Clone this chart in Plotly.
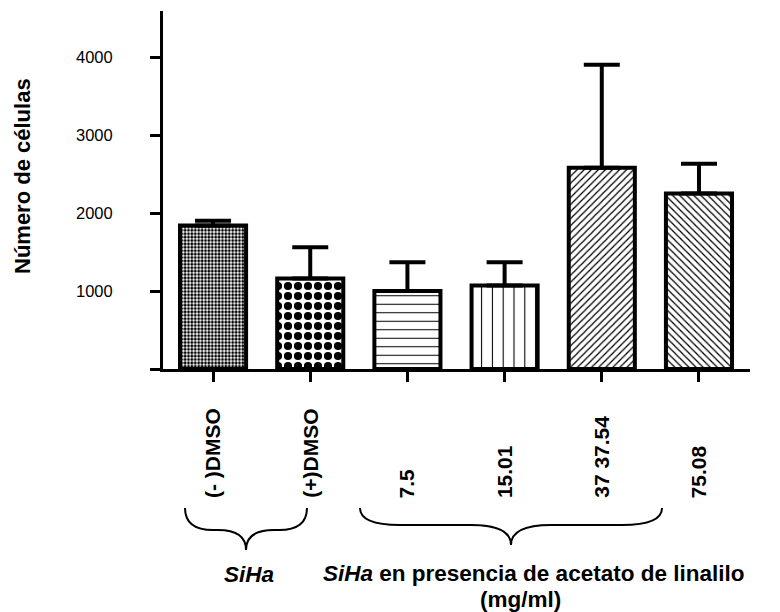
import plotly.graph_objects as go

categories = ["(- )DMSO", "(+)DMSO", "7.5", "15.01", "37 37.54", "75.08"]
means = [1840, 1160, 1000, 1070, 2580, 2250]
sd_upper = [60, 400, 370, 300, 1320, 380]
y_ticks = [0, 1000, 2000, 3000, 4000]
group_labels = ["<i>SiHa</i>", "<i>SiHa</i> en presencia de acetato de linalilo", "(mg/ml)"]
y_title = "Número de células"

patterns = [
    dict(shape=".", size=3.4, solidity=0.55),
    dict(shape=".", size=10, solidity=0.52),
    dict(shape="-", size=8.5, solidity=0.12),
    dict(shape="|", size=10.8, solidity=0.1),
    dict(shape="/", size=5, solidity=0.25),
    dict(shape="\\", size=5, solidity=0.25),
]

W, H = 780, 612
L, R, T, B = 163, 30, 11, 243
pw, ph = W - L - R, H - T - B
FONT = "Arial, Liberation Sans, sans-serif"

def px2paper(xp, yp):
    return (xp - L) / pw, (H - B - yp) / ph

x_idx = list(range(len(categories)))

fig = go.Figure()
for i in x_idx:
    fig.add_trace(go.Bar(
        x=[i], y=[means[i]], width=0.68,
        marker=dict(color="white", line=dict(color="black", width=4),
                    pattern=dict(fgcolor="black", bgcolor="white", fillmode="replace",
                                 fgopacity=1, **patterns[i])),
        error_y=dict(type="data", symmetric=False, array=[sd_upper[i]], arrayminus=[0],
                     thickness=4, width=18, color="black"),
        showlegend=False,
    ))

annotations = []
for i, lab in zip(x_idx, categories):
    annotations.append(dict(x=i, xref="x", y=px2paper(0, 500)[1], yref="paper",
                            text="<b>%s</b>" % lab, textangle=-90, showarrow=False,
                            xanchor="center", yanchor="bottom",
                            font=dict(family=FONT, size=21, color="black")))

annotations.append(dict(x=px2paper(22, 0)[0], xref="paper", y=px2paper(0, 176)[1], yref="paper",
                        text="<b>%s</b>" % y_title, textangle=-90, showarrow=False,
                        xanchor="center", yanchor="middle",
                        font=dict(family=FONT, size=22, color="black")))

for txt, xc, yc in zip(group_labels, [249, 533, 520], [574, 573, 599]):
    annotations.append(dict(x=px2paper(xc, 0)[0], xref="paper", y=px2paper(0, yc)[1], yref="paper",
                            text="<b>%s</b>" % txt, showarrow=False,
                            xanchor="center", yanchor="middle",
                            font=dict(family=FONT, size=22.5, color="black")))

def brace(x0, x1, ytop, ymid, ytip, r=28):
    xc = (x0 + x1) / 2
    def P(x, y):
        a, b = px2paper(x, y)
        return "%.5f,%.5f" % (a, b)
    return ("M " + P(x0, ytop) +
            " Q " + P(x0, ymid) + " " + P(x0 + r, ymid) +
            " L " + P(xc - r, ymid) +
            " Q " + P(xc, ymid) + " " + P(xc, ytip) +
            " Q " + P(xc, ymid) + " " + P(xc + r, ymid) +
            " L " + P(x1 - r, ymid) +
            " Q " + P(x1, ymid) + " " + P(x1, ytop))

shapes = [
    dict(type="path", xref="paper", yref="paper", path=brace(185, 307, 508, 530, 550),
         line=dict(color="black", width=2)),
    dict(type="path", xref="paper", yref="paper", path=brace(360, 662, 508, 525, 545, r=40),
         line=dict(color="black", width=2)),
]

fig.update_layout(
    width=W, height=H, margin=dict(l=L, r=R, t=T, b=B),
    paper_bgcolor="white", plot_bgcolor="white",
    bargap=0.3, annotations=annotations, shapes=shapes,
    font=dict(family=FONT, color="black"),
)
fig.update_xaxes(range=[-0.515, 5.525], tickmode="array", tickvals=x_idx, ticktext=[""] * 6,
                 showline=True, linecolor="black", linewidth=3, ticks="outside", ticklen=10,
                 tickwidth=3, tickcolor="black", showgrid=False, zeroline=False)
fig.update_yaxes(range=[0, 4590], tickmode="array", tickvals=y_ticks, ticktext=[str(v) if v else "" for v in y_ticks],
                 showline=True, linecolor="black", linewidth=3, ticks="outside", ticklen=10,
                 tickwidth=3, tickcolor="black", showgrid=False, zeroline=False,
                 tickfont=dict(family=FONT, size=16.5, color="black"), ticklabelstandoff=34)

fig.write_html("out.html")
